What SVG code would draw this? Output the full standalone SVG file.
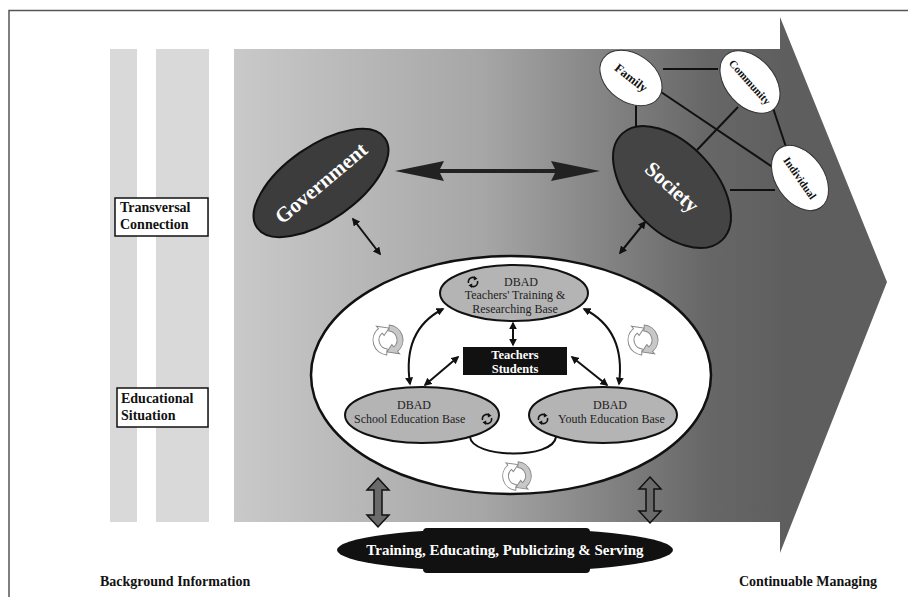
<svg xmlns="http://www.w3.org/2000/svg" width="908" height="597" viewBox="0 0 908 597">
<style>
.lbl{font-family:"Liberation Serif","Times New Roman",serif;font-weight:bold;fill:#111}
.wt{font-family:"Liberation Serif","Times New Roman",serif;font-weight:bold;fill:#fff}
.in{font-family:"Liberation Serif","Times New Roman",serif;fill:#222;font-size:12px}
.ln{stroke:#111;stroke-width:2;fill:none}
.da{stroke:#111;stroke-width:2;fill:none;marker-start:url(#ah);marker-end:url(#ah)}
.inner{fill:#b4b4b4;stroke:#111;stroke-width:2}
.stripe{fill:#d9d9d9}
.cyA{fill:#fff;stroke:#888;stroke-width:1}
.cyB{fill:#c8c8c8;stroke:#888;stroke-width:1}
.sc{fill:none;stroke:#111;stroke-width:1.5}
.big{fill:#6a6a6a;stroke:#111;stroke-width:1.5}
</style>
<defs>
<linearGradient id="bg" x1="234" y1="0" x2="790" y2="0" gradientUnits="userSpaceOnUse">
<stop offset="0" stop-color="#c9c9c9"/>
<stop offset="0.45" stop-color="#a6a6a6"/>
<stop offset="0.85" stop-color="#676767"/>
<stop offset="1" stop-color="#5e5e5e"/>
</linearGradient>
<marker id="ah" viewBox="0 0 10 10" refX="8" refY="5" markerWidth="8" markerHeight="8" markerUnits="userSpaceOnUse" orient="auto-start-reverse">
<path d="M0 0 L10 5 L0 10 Z" fill="#111"/>
</marker>
<g id="cyc">
<path class="cyA" d="M -3.08 8.46 L -5.13 14.10 A 15 15 0 0 1 -6.34 -13.59 L -7.61 -16.31 L 4.10 -11.28 L -2.54 -5.44 L -3.80 -8.16 A 9 9 0 0 0 -3.08 8.46 Z"/>
<path class="cyB" transform="rotate(180)" d="M -3.08 8.46 L -5.13 14.10 A 15 15 0 0 1 -6.34 -13.59 L -7.61 -16.31 L 4.10 -11.28 L -2.54 -5.44 L -3.80 -8.16 A 9 9 0 0 0 -3.08 8.46 Z"/>
</g>
<g id="sm">
<path class="sc" d="M -4.5 1 A 4.5 4.5 0 0 1 2.5 -3.7"/>
<path class="sc" d="M 4.5 -1 A 4.5 4.5 0 0 1 -2.5 3.7"/>
<path d="M 1 -6 L 4.5 -3.2 L 0.8 -1.6 Z" fill="#111"/>
<path d="M -1 6 L -4.5 3.2 L -0.8 1.6 Z" fill="#111"/>
</g>
</defs>

<rect width="908" height="597" fill="#fff"/>
<path d="M9 597 V10.5 H908" fill="none" stroke="#555" stroke-width="1.5"/>

<g id="background">
<rect class="stripe" x="110" y="49" width="27" height="473"/>
<rect class="stripe" x="156" y="49" width="53" height="473"/>
<polygon points="234,49 780,49 780,17 887,282 780,553 780,522 234,522" fill="url(#bg)"/>
</g>

<g id="label-transversal">
<rect x="115" y="198" width="93" height="38" fill="#fff" stroke="#111" stroke-width="1.5"/>
<text class="lbl" font-size="14" x="120" y="212">Transversal</text>
<text class="lbl" font-size="14" x="120" y="229">Connection</text>
</g>
<g id="label-educational">
<rect x="117" y="388" width="91" height="39" fill="#fff" stroke="#111" stroke-width="1.5"/>
<text class="lbl" font-size="14" x="121" y="403">Educational</text>
<text class="lbl" font-size="14" x="121" y="420">Situation</text>
</g>
<g id="label-background"><text class="lbl" font-size="14" x="100" y="586">Background Information</text></g>
<g id="label-continuable"><text class="lbl" font-size="14" x="877" y="586" text-anchor="end">Continuable Managing</text></g>

<g id="connectors">
<line class="ln" x1="663" y1="69" x2="718" y2="69"/>
<line class="ln" x1="636" y1="103" x2="636" y2="136"/>
<line class="ln" x1="661" y1="92" x2="774" y2="168"/>
<line class="ln" x1="738" y1="107" x2="697" y2="150"/>
<line class="ln" x1="773" y1="108" x2="787" y2="150"/>
<line class="ln" x1="730" y1="190" x2="775" y2="190"/>
<polygon points="395,171 444,161 440,169 555,169 551,161 600,171 551,181 555,173 440,173 444,181" fill="#222"/>
<line class="da" x1="353" y1="219" x2="380" y2="254"/>
<line class="da" x1="645" y1="222" x2="620" y2="253"/>
<polygon class="big" points="378,478 389,490 382,490 382,515 389,515 378,527 367,515 374,515 374,490 367,490"/>
<polygon class="big" points="650,477 661,489 654,489 654,511 661,511 650,523 639,511 646,511 646,489 639,489"/>
</g>

<g id="government">
<ellipse cx="321" cy="183" rx="78" ry="37" transform="rotate(-35 321 183)" fill="#3c3c3c" stroke="#111" stroke-width="2"/>
<text class="wt" font-size="21" x="321" y="190" text-anchor="middle" transform="rotate(-40 321 183)">Government</text>
</g>
<g id="society">
<ellipse cx="672" cy="187" rx="73" ry="43" transform="rotate(47 672 187)" fill="#444" stroke="#111" stroke-width="2"/>
<text class="wt" font-size="21" x="672" y="194" text-anchor="middle" transform="rotate(42 672 187)">Society</text>
</g>
<g id="family">
<ellipse cx="631" cy="78" rx="34" ry="24" transform="rotate(35 631 78)" fill="#fff" stroke="#333" stroke-width="1"/>
<text class="lbl" font-size="12.5" x="631" y="82" text-anchor="middle" transform="rotate(38 631 78)">Family</text>
</g>
<g id="community">
<ellipse cx="750" cy="82" rx="36" ry="24" transform="rotate(48 750 82)" fill="#fff" stroke="#333" stroke-width="1"/>
<text class="lbl" font-size="11" x="750" y="86" text-anchor="middle" transform="rotate(48 750 82)">Community</text>
</g>
<g id="individual">
<ellipse cx="800" cy="178" rx="36" ry="24" transform="rotate(55 800 178)" fill="#fff" stroke="#333" stroke-width="1"/>
<text class="lbl" font-size="11" x="800" y="182" text-anchor="middle" transform="rotate(55 800 178)">Individual</text>
</g>

<g id="dbad-system">
<ellipse cx="511" cy="375" rx="200" ry="119" fill="#fff" stroke="#111" stroke-width="2.5"/>
</g>

<g id="inner-connectors">
<path class="da" d="M 443 309 Q 402 330 410 384"/>
<path class="da" d="M 584 309 Q 626 330 619 384"/>
<path class="ln" d="M 470 437 C 472 458, 553 460, 556 437"/>
<line class="da" x1="513" y1="323" x2="513" y2="345"/>
<line class="da" x1="458" y1="357" x2="425" y2="385"/>
<line class="da" x1="572" y1="357" x2="607" y2="385"/>
</g>

<g id="teachers-base">
<ellipse class="inner" cx="514" cy="293" rx="74" ry="28"/>
<use href="#sm" x="473" y="282"/>
<text class="in" x="521" y="286" text-anchor="middle">DBAD</text>
<text class="in" x="515" y="299" text-anchor="middle">Teachers' Training &amp;</text>
<text class="in" x="515" y="313" text-anchor="middle">Researching Base</text>
</g>
<g id="teachers-students">
<rect x="463" y="347" width="104" height="28" fill="#111"/>
<text class="wt" font-size="12.5" x="515" y="359" text-anchor="middle">Teachers</text>
<text class="wt" font-size="12.5" x="515" y="373" text-anchor="middle">Students</text>
</g>
<g id="school-base">
<ellipse class="inner" cx="422" cy="415" rx="77" ry="28"/>
<text class="in" x="414" y="409" text-anchor="middle">DBAD</text>
<text class="in" x="354" y="423">School Education Base</text>
<use href="#sm" x="487" y="419"/>
</g>
<g id="youth-base">
<ellipse class="inner" cx="603" cy="415" rx="74" ry="28"/>
<text class="in" x="610" y="409" text-anchor="middle">DBAD</text>
<use href="#sm" x="543" y="419"/>
<text class="in" x="558" y="423">Youth Education Base</text>
</g>

<g id="cycles">
<use href="#cyc" transform="translate(388 340) rotate(-15) scale(1.0)"/>
<use href="#cyc" transform="translate(643 340) rotate(-15) scale(1.0)"/>
<use href="#cyc" transform="translate(517 476) rotate(-15) scale(0.95)"/>
</g>

<g id="outreach">
<rect x="423" y="528" width="167" height="45" rx="4" fill="#111"/>
<ellipse cx="505" cy="550" rx="168" ry="22" fill="#111"/>
<text class="wt" font-size="15" x="505" y="555" text-anchor="middle">Training, Educating, Publicizing &amp; Serving</text>
</g>
</svg>
